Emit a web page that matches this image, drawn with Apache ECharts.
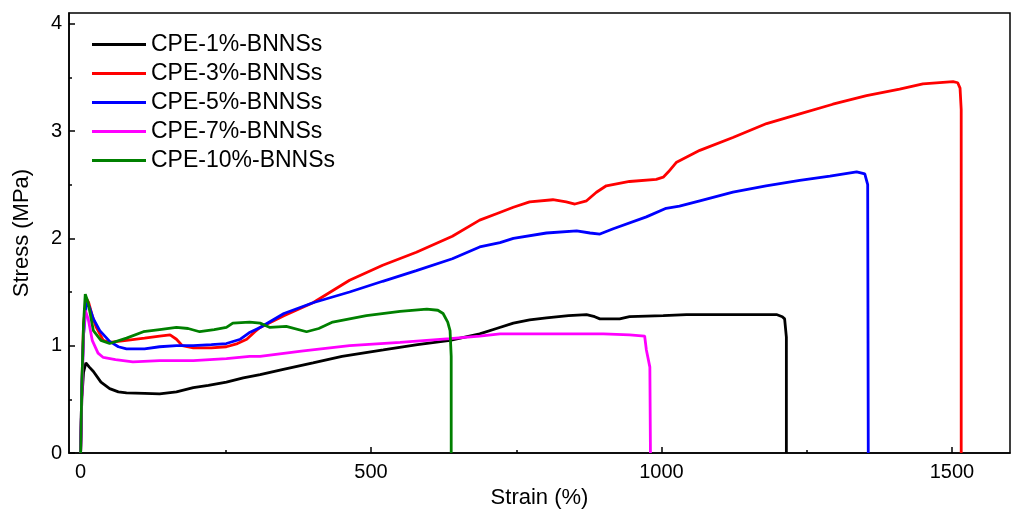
<!DOCTYPE html>
<html>
<head>
<meta charset="utf-8">
<script src="https://cdn.jsdelivr.net/npm/echarts@6/dist/echarts.min.js"></script>
<style>
html,body{margin:0;padding:0;background:#fff;}
#chart{width:1012px;height:521px;}
</style>
</head>
<body>
<div id="chart"></div>
<script>
var seriesNames = ['CPE-1%-BNNSs','CPE-3%-BNNSs','CPE-5%-BNNSs','CPE-7%-BNNSs','CPE-10%-BNNSs'];
var colors = ['#000000','#ff0000','#0000ff','#ff00ff','#008000'];
var xMajorTicks = [0,500,1000,1500];
var xMinorTicks = [250,750,1250];
var yMajorTicks = [0,1,2,3,4];
var yMinorTicks = [0.5,1.5,2.5,3.5];

var cpe1 = [[0,0],[2,0.5],[5,0.75],[9,0.84],[15,0.8],[22,0.76],[35,0.66],[50,0.6],[65,0.57],[79,0.56],[110,0.555],[136,0.55],[165,0.57],[194,0.61],[220,0.63],[251,0.66],[280,0.7],[309,0.73],[349,0.78],[400,0.84],[450,0.9],[521,0.96],[580,1.01],[636,1.05],[687,1.11],[716,1.16],[745,1.21],[773,1.24],[802,1.26],[840,1.28],[871,1.29],[885,1.27],[894,1.25],[928,1.25],[945,1.27],[1003,1.28],[1043,1.29],[1100,1.29],[1150,1.29],[1198,1.29],[1208,1.27],[1212,1.25],[1215,1.08],[1215,0]];
var cpe3 = [[0,0],[2,0.6],[5,1.2],[10,1.44],[14,1.4],[20,1.28],[27,1.17],[39,1.05],[50,1.03],[79,1.05],[110,1.07],[136,1.09],[154,1.1],[165,1.06],[175,1.0],[194,0.98],[225,0.98],[251,0.99],[270,1.02],[286,1.06],[300,1.13],[309,1.17],[350,1.28],[400,1.4],[463,1.61],[520,1.75],[578,1.87],[640,2.02],[687,2.17],[716,2.23],[745,2.29],[773,2.34],[813,2.36],[836,2.34],[851,2.32],[871,2.35],[888,2.43],[905,2.49],[945,2.53],[991,2.55],[1003,2.57],[1012,2.62],[1026,2.71],[1066,2.82],[1123,2.94],[1181,3.07],[1238,3.16],[1295,3.25],[1353,3.33],[1410,3.39],[1450,3.44],[1502,3.46],[1510,3.45],[1514,3.4],[1516,3.2],[1516,0]];
var cpe5 = [[0,0],[2,0.6],[5,1.1],[10,1.4],[15,1.36],[22,1.25],[33,1.14],[50,1.04],[65,0.99],[79,0.97],[110,0.97],[136,0.99],[165,1.0],[194,1.0],[225,1.01],[251,1.02],[275,1.06],[290,1.12],[309,1.17],[350,1.3],[400,1.4],[463,1.5],[520,1.6],[578,1.7],[640,1.81],[687,1.92],[722,1.96],[745,2.0],[802,2.05],[854,2.07],[877,2.05],[894,2.04],[917,2.09],[974,2.2],[1008,2.28],[1031,2.3],[1066,2.35],[1123,2.43],[1180,2.49],[1238,2.54],[1290,2.58],[1336,2.62],[1350,2.6],[1355,2.5],[1356,0]];
var cpe7 = [[0,0],[2,0.5],[5,1.1],[8,1.33],[13,1.25],[20,1.05],[30,0.93],[39,0.89],[60,0.87],[90,0.85],[136,0.86],[194,0.86],[251,0.88],[291,0.9],[309,0.9],[380,0.95],[463,1.0],[550,1.03],[636,1.065],[687,1.09],[722,1.11],[831,1.11],[900,1.11],[945,1.1],[971,1.09],[974,0.96],[980,0.8],[981,0]];
var cpe10 = [[0,0],[2,0.6],[5,1.2],[8,1.48],[13,1.4],[22,1.14],[35,1.05],[50,1.02],[79,1.07],[108,1.13],[136,1.15],[165,1.17],[185,1.16],[205,1.13],[230,1.15],[251,1.17],[262,1.21],[291,1.22],[309,1.21],[326,1.17],[354,1.18],[389,1.13],[410,1.16],[434,1.22],[492,1.28],[550,1.32],[596,1.34],[615,1.33],[624,1.3],[632,1.22],[636,1.14],[638,0.9],[638,0]];
var allData = [cpe1,cpe3,cpe5,cpe7,cpe10];

var FONT = "'Liberation Sans', Arial, sans-serif";
var chart = echarts.init(document.getElementById('chart'), null, {renderer:'canvas'});

var series = seriesNames.map(function(n,i){
  return {name:n,type:'line',data:allData[i],showSymbol:false,symbol:'none',xAxisIndex:0,yAxisIndex:0,
    lineStyle:{color:colors[i],width:2.8},itemStyle:{color:colors[i]},smooth:false,z:2+i};
});

function plain(v){ return String(v); }

chart.setOption({
  animation:false,
  backgroundColor:'#ffffff',
  grid:{left:69,right:2,top:13,bottom:68,show:true,borderColor:'#000',borderWidth:1.5,containLabel:false},
  legend:{orient:'vertical',left:92,top:33,padding:0,itemGap:6,itemWidth:54,itemHeight:3,icon:'rect',
    textStyle:{fontFamily:FONT,fontSize:23,color:'#000',lineHeight:23},data:seriesNames},
  xAxis:[{type:'value',min:-20,max:1600,name:'Strain (%)',nameLocation:'middle',nameGap:33,
      nameTextStyle:{fontFamily:FONT,fontSize:22,color:'#000'},
      axisLine:{show:true,onZero:false,lineStyle:{color:'#000',width:1.5}},
      axisTick:{show:true,inside:true,length:6,customValues:xMajorTicks,lineStyle:{color:'#000',width:1.5}},
      axisLabel:{show:true,margin:9,customValues:xMajorTicks,formatter:plain,fontFamily:FONT,fontSize:20,color:'#000'},
      splitLine:{show:false}},
    {type:'value',min:-20,max:1600,position:'bottom',offset:0,gridIndex:0,
      axisLine:{show:false,onZero:false},
      axisTick:{show:true,inside:true,length:3,customValues:xMinorTicks,lineStyle:{color:'#000',width:1.5}},
      axisLabel:{show:false},splitLine:{show:false}}],
  yAxis:[{type:'value',min:0,max:4.1,name:'Stress (MPa)',nameLocation:'middle',nameGap:36,
      nameTextStyle:{fontFamily:FONT,fontSize:22,color:'#000'},
      axisLine:{show:true,onZero:false,lineStyle:{color:'#000',width:1.5}},
      axisTick:{show:true,inside:true,length:6,customValues:yMajorTicks,lineStyle:{color:'#000',width:1.5}},
      axisLabel:{show:true,margin:7,customValues:yMajorTicks,formatter:plain,fontFamily:FONT,fontSize:20,color:'#000'},
      splitLine:{show:false}},
    {type:'value',min:0,max:4.1,position:'left',offset:0,gridIndex:0,
      axisLine:{show:false,onZero:false},
      axisTick:{show:true,inside:true,length:3,customValues:yMinorTicks,lineStyle:{color:'#000',width:1.5}},
      axisLabel:{show:false},splitLine:{show:false}}],
  series:series
});
</script>
</body>
</html>
